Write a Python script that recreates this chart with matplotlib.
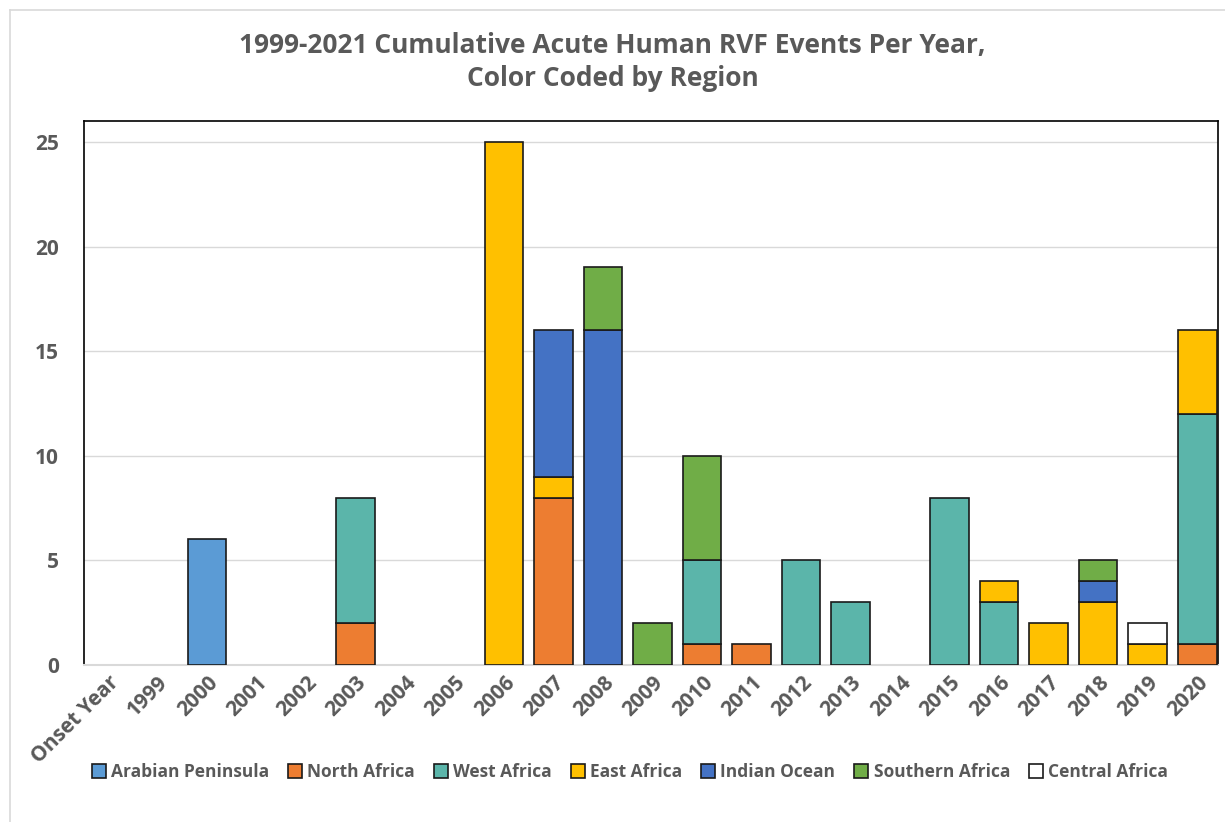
import matplotlib
matplotlib.use("Agg")
import matplotlib.pyplot as plt
from matplotlib.lines import Line2D
import numpy as np

categories = ["Onset Year"] + [str(y) for y in range(1999, 2021)]
regions = ["Arabian Peninsula", "North Africa", "West Africa", "East Africa",
           "Indian Ocean", "Southern Africa", "Central Africa"]
colors = ["#5B9BD5", "#ED7D31", "#5BB5AA", "#FFC000", "#4472C4", "#70AD47", "#FFFFFF"]

#                    Onset 99 00 01 02 03 04 05 06 07 08 09 10 11 12 13 14 15 16 17 18 19 20
arabian_peninsula = [0, 0, 6, 0, 0, 0, 0, 0, 0, 0, 0, 0, 0, 0, 0, 0, 0, 0, 0, 0, 0, 0, 0]
north_africa      = [0, 0, 0, 0, 0, 2, 0, 0, 0, 8, 0, 0, 1, 1, 0, 0, 0, 0, 0, 0, 0, 0, 1]
west_africa       = [0, 0, 0, 0, 0, 6, 0, 0, 0, 0, 0, 0, 4, 0, 5, 3, 0, 8, 3, 0, 0, 0, 11]
east_africa       = [0, 0, 0, 0, 0, 0, 0, 0, 25, 1, 0, 0, 0, 0, 0, 0, 0, 0, 1, 2, 3, 1, 4]
indian_ocean      = [0, 0, 0, 0, 0, 0, 0, 0, 0, 7, 16, 0, 0, 0, 0, 0, 0, 0, 0, 0, 1, 0, 0]
southern_africa   = [0, 0, 0, 0, 0, 0, 0, 0, 0, 0, 3, 2, 5, 0, 0, 0, 0, 0, 0, 0, 1, 0, 0]
central_africa    = [0, 0, 0, 0, 0, 0, 0, 0, 0, 0, 0, 0, 0, 0, 0, 0, 0, 0, 0, 0, 0, 1, 0]
series = [arabian_peninsula, north_africa, west_africa, east_africa,
          indian_ocean, southern_africa, central_africa]

plt.rcParams['font.family'] = ['Open Sans', 'DejaVu Sans']
gray = "#595959"

fig = plt.figure(figsize=(12.25, 8.22), dpi=100)
W, H = 1225, 822
ax = fig.add_axes([84 / W, 1 - 665 / H, (1218 - 84) / W, (665 - 121) / H])

x = np.arange(len(categories))
bottom = np.zeros(len(categories))
for name, vals, c in zip(regions, series, colors):
    v = np.array(vals, dtype=float)
    mask = v > 0
    ax.bar(x[mask], v[mask], bottom=bottom[mask], width=0.78, color=c,
           edgecolor="#1a1a1a", linewidth=1.2, zorder=3)
    bottom += v

ax.set_xlim(-0.485, 22.42)
ax.set_ylim(0, 26)
ax.set_yticks([0, 5, 10, 15, 20, 25])
ax.yaxis.grid(True, color="#D9D9D9", linewidth=1, zorder=0)
ax.set_xticks(x)
ax.set_xticklabels(categories, rotation=45, ha="right", rotation_mode="anchor",
                   fontsize=15, fontweight="bold", color=gray)
for lab in ax.get_yticklabels():
    lab.set_fontsize(15)
    lab.set_fontweight("bold")
    lab.set_color(gray)
ax.tick_params(axis="both", length=0)
ax.tick_params(axis="y", pad=18)
ax.tick_params(axis="x", pad=5)
for s in ["left", "top", "right"]:
    ax.spines[s].set_color("#000000")
    ax.spines[s].set_linewidth(1.2)
ax.spines["bottom"].set_color("#D9D9D9")
ax.spines["bottom"].set_linewidth(1.5)

fig.text(0.5, 1 - 46 / H, "1999-2021 Cumulative Acute Human RVF Events Per Year,",
         ha="center", va="center", fontsize=19, fontweight="bold", color=gray)
fig.text(0.5, 1 - 79 / H, "Color Coded by Region",
         ha="center", va="center", fontsize=19, fontweight="bold", color=gray)

handles = [plt.Rectangle((0, 0), 1, 1, facecolor=c, edgecolor="#1a1a1a", linewidth=1.2)
           for c in colors]
leg = fig.legend(handles, regions, loc="center", bbox_to_anchor=(630 / W, 1 - 772 / H),
                 ncol=7, frameon=False, handlelength=0.8, handleheight=0.8,
                 handletextpad=0.3, columnspacing=1.1,
                 prop={"size": 12.5, "weight": "bold"})
for t in leg.get_texts():
    t.set_color(gray)

# outer chart border
fig.add_artist(Line2D([10 / W, 10 / W], [0, 1 - 10 / H], color="#D9D9D9", linewidth=1.2))
fig.add_artist(Line2D([10 / W, 1], [1 - 10 / H, 1 - 10 / H], color="#D9D9D9", linewidth=1.2))

fig.savefig("out.png", dpi=100, facecolor="white")
